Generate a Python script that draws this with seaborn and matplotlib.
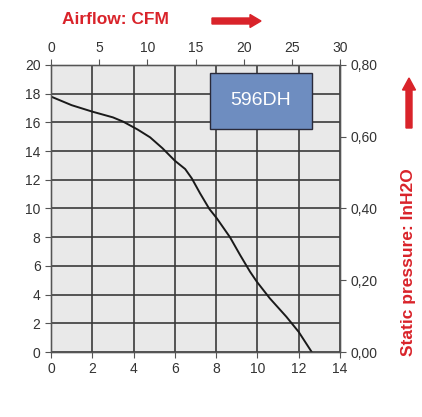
import matplotlib.pyplot as plt
import seaborn as sns
import pandas as pd
from matplotlib.patches import FancyArrow, Rectangle

# curve (bottom axis units / left axis units)
flow = [0.0, 1.0, 2.0, 3.0, 3.5, 4.2, 4.8, 5.4, 6.0, 6.5, 6.82, 7.22, 7.67, 8.03, 8.67, 9.16, 9.64, 9.97, 10.6, 11.4, 12.0, 12.63]
pressure = [17.8, 17.2, 16.75, 16.35, 16.05, 15.5, 14.96, 14.2, 13.33, 12.75, 12.1, 11.06, 9.97, 9.32, 8.0, 6.76, 5.6, 4.9, 3.74, 2.46, 1.4, 0.0]

x_ticks = [0, 2, 4, 6, 8, 10, 12, 14]
y_ticks = [0, 2, 4, 6, 8, 10, 12, 14, 16, 18, 20]
cfm_ticks = [0, 5, 10, 15, 20, 25, 30]
inh2o_ticks = [0.0, 0.2, 0.4, 0.6, 0.8]
model = "596DH"

df = pd.DataFrame({"flow": flow, "pressure": pressure})

sns.set_style("white")
plt.rcParams["font.family"] = ["Liberation Sans", "DejaVu Sans"]

fig = plt.figure(figsize=(4.22, 4.17), dpi=100)
ax = fig.add_axes([51 / 422, 65 / 417, 289 / 422, 287 / 417])
ax.set_facecolor("#e9e9e9")

sns.lineplot(data=df, x="flow", y="pressure", color="#1a1a1a", linewidth=1.4, ax=ax)

ax.set_xlim(0, 14)
ax.set_ylim(0, 20)
ax.set_xticks(x_ticks)
ax.set_yticks(y_ticks)
ax.grid(True, color="#3a3a3a", linewidth=1.2)
ax.set_axisbelow(True)
ax.set_xlabel("")
ax.set_ylabel("")
ax.tick_params(direction="out", length=4, color="#555555", labelsize=10, labelcolor="#333333")
for s in ax.spines.values():
    s.set_color("#555555")
    s.set_linewidth(1.0)

# top axis: CFM
ax_top = ax.twiny()
ax_top.set_xlim(0, 30)
ax_top.set_xticks(cfm_ticks)
ax_top.tick_params(direction="out", length=4, color="#555555", labelsize=10, labelcolor="#333333")

# right axis: InH2O
ax_r = ax.twinx()
ax_r.set_ylim(0, 0.8)
ax_r.set_yticks(inh2o_ticks)
ax_r.set_yticklabels([f"{v:.2f}".replace(".", ",") for v in inh2o_ticks])
ax_r.tick_params(direction="out", length=4, color="#555555", labelsize=10, labelcolor="#333333")
for a in (ax_top, ax_r):
    for s in a.spines.values():
        s.set_color("#555555")

# model box
ax.add_patch(Rectangle((7.7, 15.54), 4.93, 3.92, facecolor="#6e8dc0", edgecolor="#2a2a3a",
                       linewidth=1.0, zorder=5))
ax.text(10.17, 17.5, model, color="white", fontsize=14, ha="center", va="center", zorder=6)

red = "#d9232a"
fig.text(62 / 422, 1 - 20 / 417, "Airflow: CFM", color=red, fontsize=12.5, fontweight="bold",
         family=["Liberation Sans Narrow", "Liberation Sans", "DejaVu Sans"], ha="left", va="center")
fig.patches.append(FancyArrow(212 / 422, 1 - 21 / 417, 38 / 422, 0, width=6 / 417,
                              head_width=13 / 417, head_length=11 / 422, color=red,
                              transform=fig.transFigure, figure=fig))
fig.text(409 / 422, 1 - 262 / 417, "Static pressure: InH2O", color=red, fontsize=12.5,
         fontweight="bold", rotation=90,
         family=["Liberation Sans Narrow", "Liberation Sans", "DejaVu Sans"], ha="center", va="center")
fig.patches.append(FancyArrow(409 / 422, 1 - 128 / 417, 0, 38 / 417, width=6 / 422,
                              head_width=13 / 422, head_length=12 / 417, color=red,
                              transform=fig.transFigure, figure=fig))

plt.savefig("out.png", dpi=100)
